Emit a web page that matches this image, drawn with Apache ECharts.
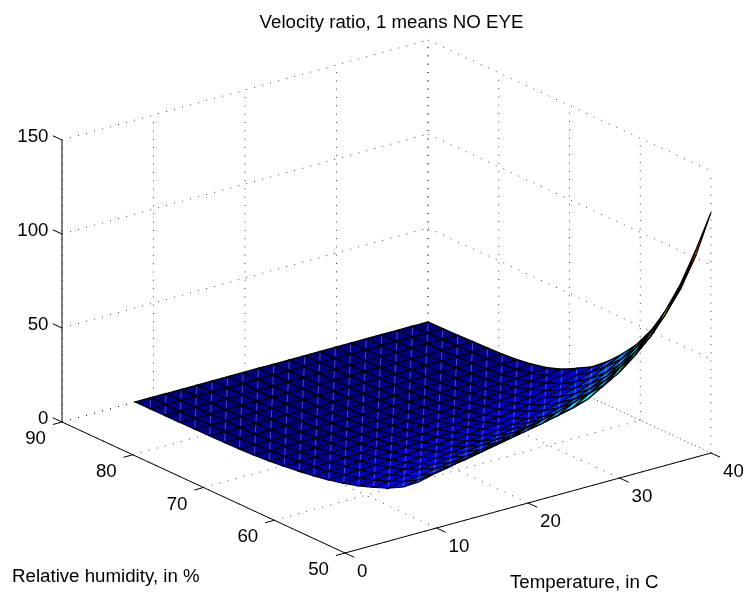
<!DOCTYPE html>
<html>
<head>
<meta charset="utf-8">
<style>html,body{margin:0;padding:0;background:#fff}#c{width:747px;height:594px}</style>
<script src="https://cdn.jsdelivr.net/npm/echarts@6/dist/echarts.min.js"></script>
</head>
<body>
<div id="c"></div>
<script>
var titleText = 'Velocity ratio, 1 means NO EYE';
var humidityLabel = 'Relative humidity, in %';
var temperatureLabel = 'Temperature, in C';
var temperatureTicks = [0, 10, 20, 30, 40];
var humidityTicks = [50, 60, 70, 80, 90];
var velocityTicks = [0, 50, 100, 150];
var temperatures = [8, 9.68, 11.37, 13.05, 14.74, 16.42, 18.11, 19.79, 21.47, 23.16, 24.84, 26.53, 28.21, 29.89, 31.58, 33.26, 34.95, 36.63, 38.32, 40];
var humidities = [50, 52.11, 54.21, 56.32, 58.42, 60.53, 62.63, 64.74, 66.84, 68.95, 71.05, 73.16, 75.26, 77.37, 79.47, 81.58, 83.68, 85.79, 87.89, 90];
// velocity ratio, one row per humidity, one column per temperature
var velocity = [
[27,29,30.5,32.5,34,36,38,40,42,44,46.5,49,51.5,58,64,72,82,94,110,128],
[20.8,22.4,23.6,25.2,26.4,28,29.6,31.2,32.8,34.4,36.4,38.4,40.8,45.6,50.4,56.8,64.8,74.4,87.2,101.6],
[16.5,17.8,18.7,20,21,22.2,23.5,24.8,26,27.3,28.9,30.5,32.4,36.2,40,45.1,51.4,59.1,69.2,80.6],
[13.3,14.3,15,16.1,16.8,17.9,18.9,19.9,20.9,21.9,23.2,24.5,26,29.1,32.1,36.2,41.3,47.4,55.6,64.8],
[10.4,11.2,11.8,12.6,13.2,14,14.8,15.6,16.4,17.2,18.2,19.2,20.4,22.8,25.2,28.4,32.4,37.2,43.6,50.8],
[8.1,8.7,9.1,9.8,10.2,10.9,11.5,12.1,12.7,13.3,14.1,14.9,15.8,17.7,19.5,22,25.1,28.8,33.8,39.4],
[6.2,6.7,7.1,7.6,7.9,8.4,8.9,9.4,9.8,10.3,10.9,11.5,12.2,13.7,15.1,17,19.4,22.3,26.2,30.5],
[4.7,5,5.3,5.7,5.9,6.3,6.7,7,7.4,7.7,8.2,8.6,9.2,10.3,11.3,12.8,14.6,16.7,19.6,22.9],
[3.4,3.6,3.8,4.1,4.3,4.6,4.8,5.1,5.3,5.6,5.9,6.2,6.6,7.4,8.2,9.2,10.5,12.1,14.2,16.5],
[2.5,2.7,2.8,3,3.1,3.3,3.5,3.7,3.9,4.1,4.3,4.6,4.8,5.4,6,6.7,7.7,8.8,10.4,12.1],
[1.6,1.8,1.9,2,2.1,2.2,2.3,2.5,2.6,2.7,2.9,3,3.2,3.6,4,4.5,5.1,5.9,6.9,8],
[1,1.1,1.2,1.3,1.3,1.4,1.5,1.6,1.6,1.7,1.8,1.9,2,2.3,2.5,2.8,3.2,3.7,4.4,5.1],
[0.65,0.7,0.74,0.79,0.83,0.88,0.93,0.98,1,1.1,1.1,1.2,1.3,1.4,1.6,1.8,2,2.3,2.7,3.2],
[0.4,0.45,0.47,0.5,0.53,0.56,0.59,0.62,0.66,0.69,0.73,0.77,0.82,0.91,1,1.1,1.3,1.5,1.7,2],
[0.3,0.3,0.3,0.3,0.3,0.35,0.37,0.39,0.41,0.43,0.46,0.48,0.51,0.57,0.63,0.71,0.81,0.93,1.1,1.3],
[0.2,0.2,0.2,0.2,0.23,0.25,0.26,0.27,0.29,0.3,0.32,0.34,0.36,0.4,0.44,0.5,0.57,0.65,0.76,0.89],
[0.1,0.1,0.15,0.16,0.17,0.18,0.19,0.2,0.2,0.2,0.23,0.24,0.26,0.29,0.32,0.36,0.41,0.47,0.55,0.64],
[0.1,0.1,0.1,0.1,0.1,0.1,0.1,0.12,0.12,0.13,0.14,0.14,0.15,0.17,0.19,0.21,0.24,0.28,0.33,0.38],
[0.05,0.05,0.05,0.05,0.05,0.05,0.06,0.06,0.06,0.06,0.07,0.07,0.08,0.09,0.09,0.11,0.12,0.14,0.16,0.19],
[0.02,0.02,0.02,0.03,0.03,0.03,0.03,0.03,0.03,0.03,0.04,0.04,0.04,0.05,0.05,0.06,0.06,0.07,0.09,0.1]
];

// Oblique view of the 3D box onto the hidden 2D plot plane
function project(t, h, v) {
  return [345 + 9.15 * t - 7.075 * (h - 50), 553 - 2.5 * t - 3.275 * (h - 50) - 1.88 * v];
}

function jet(f) {
  f = Math.max(0, Math.min(1, f));
  function c(x) { return Math.round(255 * Math.max(0, Math.min(1, x))); }
  var r = 1.5 - Math.abs(4 * f - 3), g = 1.5 - Math.abs(4 * f - 2), b = 1.5 - Math.abs(4 * f - 1);
  return 'rgb(' + c(r) + ',' + c(g) + ',' + c(b) + ')';
}

var tMin = temperatureTicks[0], tMax = temperatureTicks[temperatureTicks.length - 1];
var hMin = humidityTicks[0], hMax = humidityTicks[humidityTicks.length - 1];
var vMin = velocityTicks[0], vMax = velocityTicks[velocityTicks.length - 1];

var dotted = [], solid = [], labels = [];
temperatureTicks.forEach(function (t) {
  dotted.push([t, hMin, vMin, t, hMax, vMin]);
  dotted.push([t, hMax, vMin, t, hMax, vMax]);
  solid.push([t, hMin, vMin, t, hMin - 1.3, vMin]);
  labels.push([t, hMin, vMin, 12, 19, String(t), 'left']);
});
humidityTicks.forEach(function (h) {
  dotted.push([tMin, h, vMin, tMax, h, vMin]);
  dotted.push([tMax, h, vMin, tMax, h, vMax]);
  solid.push([tMin, h, vMin, tMin - 1, h, vMin]);
  labels.push([tMin, h, vMin, -16, 17, String(h), 'right']);
});
velocityTicks.forEach(function (v) {
  dotted.push([tMin, hMax, v, tMax, hMax, v]);
  dotted.push([tMax, hMax, v, tMax, hMin, v]);
  solid.push([tMin, hMax, v, tMin, hMax + 1.3, v]);
  labels.push([tMin, hMax, v, -13.5, -3, String(v), 'right']);
});
solid.push([tMin, hMin, vMin, tMax, hMin, vMin]);
solid.push([tMin, hMin, vMin, tMin, hMax, vMin]);
solid.push([tMin, hMax, vMin, tMin, hMax, vMax]);

var cells = [];
for (var hi = humidities.length - 2; hi >= 0; hi--) {
  for (var ti = temperatures.length - 2; ti >= 0; ti--) cells.push([ti, hi]);
}
var vLow = Infinity, vHigh = -Infinity;
velocity.forEach(function (r) { r.forEach(function (v) { vLow = Math.min(vLow, v); vHigh = Math.max(vHigh, v); }); });

function segment(stroke, dash, opacity) {
  return function (params, api) {
    var a = project(api.value(0), api.value(1), api.value(2));
    var b = project(api.value(3), api.value(4), api.value(5));
    var p = api.coord(a), q = api.coord(b);
    return { type: 'line', silent: true,
      shape: { x1: p[0], y1: p[1], x2: q[0], y2: q[1] },
      style: { stroke: stroke, lineWidth: 1, lineDash: dash, fill: null, opacity: opacity } };
  };
}

function renderCell(params, api) {
  var i = api.value(0), j = api.value(1);
  function corner(ti, hi) { return api.coord(project(temperatures[ti], humidities[hi], velocity[hi][ti])); }
  var a = corner(i, j), b = corner(i + 1, j), c = corner(i + 1, j + 1), d = corner(i, j + 1);
  var mean = (velocity[j][i] + velocity[j][i + 1] + velocity[j + 1][i + 1] + velocity[j + 1][i]) / 4;
  var col = jet((mean - vLow) / (vHigh - vLow));
  return { type: 'group', silent: true, children: [
    { type: 'polygon', shape: { points: [a, b, c, d] }, style: { fill: col, stroke: '#000', lineWidth: 1.25 } },
    { type: 'line', shape: { x1: a[0] + (c[0] - a[0]) * 0.18, y1: a[1] + (c[1] - a[1]) * 0.18, x2: a[0] + (c[0] - a[0]) * 0.82, y2: a[1] + (c[1] - a[1]) * 0.82 },
      style: { stroke: 'rgba(190,190,255,0.4)', lineWidth: 1, fill: null } }
  ] };
}

function renderLabel(params, api) {
  var p = api.coord(project(api.value(0), api.value(1), api.value(2)));
  return { type: 'text', silent: true, style: {
    x: p[0] + api.value(3), y: p[1] + api.value(4), text: labels[params.dataIndex][5],
    align: labels[params.dataIndex][6], verticalAlign: 'middle', fill: '#000',
    font: '18.7px "Liberation Sans", Arial, sans-serif' } };
}

var chart = echarts.init(document.getElementById('c'), null, { renderer: 'canvas' });
chart.setOption({
  animation: false,
  backgroundColor: '#fff',
  title: { text: titleText, left: 386.5, top: 8, textAlign: 'center',
    textStyle: { fontFamily: '"Liberation Sans", Arial, sans-serif', fontSize: 18.7, fontWeight: 'normal', color: '#000' } },
  grid: { left: 0, right: 0, top: 0, bottom: 0 },
  xAxis: { type: 'value', min: 0, max: 747, show: false },
  yAxis: { type: 'value', min: 0, max: 594, inverse: true, show: false },
  tooltip: { show: false },
  graphic: [
    { type: 'text', left: 12, top: 567, silent: true, style: { text: humidityLabel, fill: '#000', font: '18.7px "Liberation Sans", Arial, sans-serif' } },
    { type: 'text', left: 510, top: 573, silent: true, style: { text: temperatureLabel, fill: '#000', font: '18.7px "Liberation Sans", Arial, sans-serif' } }
  ],
  series: [
    { type: 'custom', name: 'grid', coordinateSystem: 'cartesian2d', clip: false, silent: true, z: 1,
      data: dotted, renderItem: segment('#000', [1, 7.3], 0.75) },
    { type: 'custom', name: 'axes', coordinateSystem: 'cartesian2d', clip: false, silent: true, z: 2,
      data: solid, renderItem: segment('#000', null, 1) },
    { type: 'custom', name: 'surface', coordinateSystem: 'cartesian2d', clip: false, silent: true, z: 3,
      data: cells, renderItem: renderCell, progressive: 0 },
    { type: 'custom', name: 'labels', coordinateSystem: 'cartesian2d', clip: false, silent: true, z: 4,
      data: labels.map(function (l) { return l.slice(0, 5); }), renderItem: renderLabel }
  ]
});
</script>
</body>
</html>
